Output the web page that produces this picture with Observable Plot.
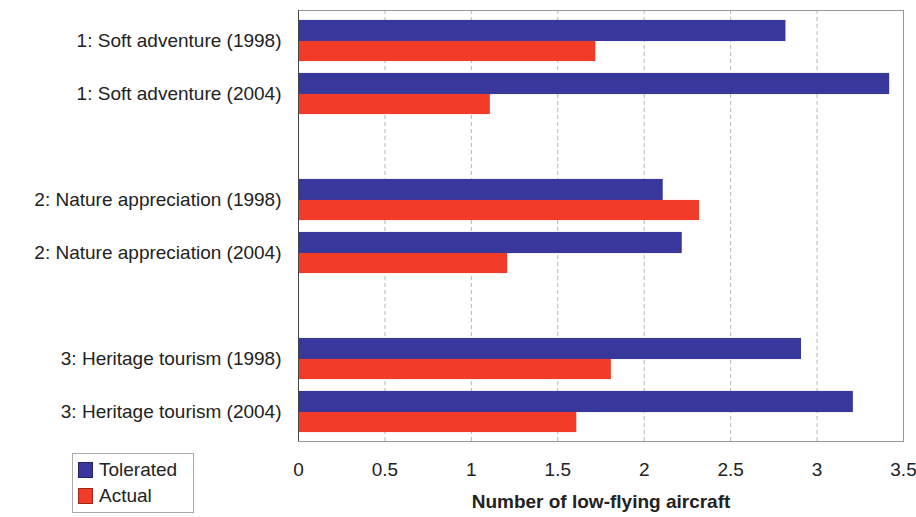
<!DOCTYPE html>
<html>
<head>
<meta charset="utf-8">
<script src="https://cdn.jsdelivr.net/npm/d3@7"></script>
<script src="https://cdn.jsdelivr.net/npm/@observablehq/plot@0.6"></script>
<style>
  body { margin: 0; background: #fff; font-family: "Liberation Sans", Arial, sans-serif; }
  #wrap { position: relative; width: 916px; height: 517px; }
  #legend { position: absolute; left: 72px; top: 453px; width: 122px; height: 60px; border: 1px solid #aaa; box-sizing: border-box; font-size: 19px; color: #222; }
  .item { position: absolute; left: 5px; display: flex; align-items: center; line-height: 1; }
  .sw { width: 15px; height: 16px; margin-right: 6px; box-sizing: border-box; border: 1px solid rgba(0,0,0,0.35); }
</style>
</head>
<body>
<div id="wrap"><div id="legend"></div></div>
<script>
// ---- data ----
const slots = [
  "1: Soft adventure (1998)",
  "1: Soft adventure (2004)",
  "gap1",
  "2: Nature appreciation (1998)",
  "2: Nature appreciation (2004)",
  "gap2",
  "3: Heritage tourism (1998)",
  "3: Heritage tourism (2004)"
];
const categories = slots.filter(s => !s.startsWith("gap"));
const tolerated = [2.82, 3.42, 2.11, 2.22, 2.91, 3.21];
const actual    = [1.72, 1.11, 2.32, 1.21, 1.81, 1.61];
const seriesNames = ["Tolerated", "Actual"];
const xTicks = [0, 0.5, 1, 1.5, 2, 2.5, 3, 3.5];
const xLabel = "Number of low-flying aircraft";

const colors = {Tolerated: "#38389c", Actual: "#f23c28"};

const rows = categories.flatMap((c, i) => [
  {cat: c, series: "Tolerated", value: tolerated[i]},
  {cat: c, series: "Actual", value: actual[i]}
]);

const width = 916, height = 517;
const marginTop = 10, marginBottom = 76, marginLeft = 298, marginRight = 13;
const step = (height - marginTop - marginBottom) / slots.length;
const outer = step * 0.11;
const half = step / 2;

const chart = Plot.plot({
  width, height, marginTop, marginBottom, marginLeft, marginRight,
  style: {fontFamily: "'Liberation Sans', Arial, sans-serif", background: "#fff"},
  x: {domain: [0, 3.5]},
  y: {domain: slots, padding: 0},
  marks: [
    Plot.gridX(xTicks, {stroke: "#999", strokeOpacity: 0.7, strokeDasharray: "4,3"}),
    Plot.frame({stroke: "#999"}),
    Plot.barX(rows.filter(d => d.series === "Tolerated"), {
      x: "value", y: "cat", fill: colors.Tolerated, insetTop: outer, insetBottom: half - 1
    }),
    Plot.barX(rows.filter(d => d.series === "Actual"), {
      x: "value", y: "cat", fill: colors.Actual, insetTop: half, insetBottom: outer
    }),
    Plot.ruleX([0], {stroke: "#444"}),
    Plot.axisY({
      tickSize: 0, tickPadding: 17, fontSize: 19, fill: "#222",
      tickFormat: d => d.startsWith("gap") ? "" : d, label: null,
      letterSpacing: "0.6px"
    }),
    Plot.axisX(xTicks, {tickSize: 0, tickPadding: 21, fontSize: 19, fill: "#222", label: null, tickFormat: d => String(d)}),
    Plot.text([xLabel], {frameAnchor: "bottom", dy: 66, fontSize: 19, fontWeight: "bold", fill: "#222", letterSpacing: "0.9px"})
  ]
});
document.getElementById("wrap").prepend(chart);

const legend = d3.select("#legend");
seriesNames.forEach((s, i) => {
  const it = legend.append("div").attr("class", "item").style("top", (i === 0 ? 6 : 32) + "px");
  it.append("div").attr("class", "sw").style("background", colors[s]);
  it.append("span").text(s);
});
</script>
</body>
</html>
